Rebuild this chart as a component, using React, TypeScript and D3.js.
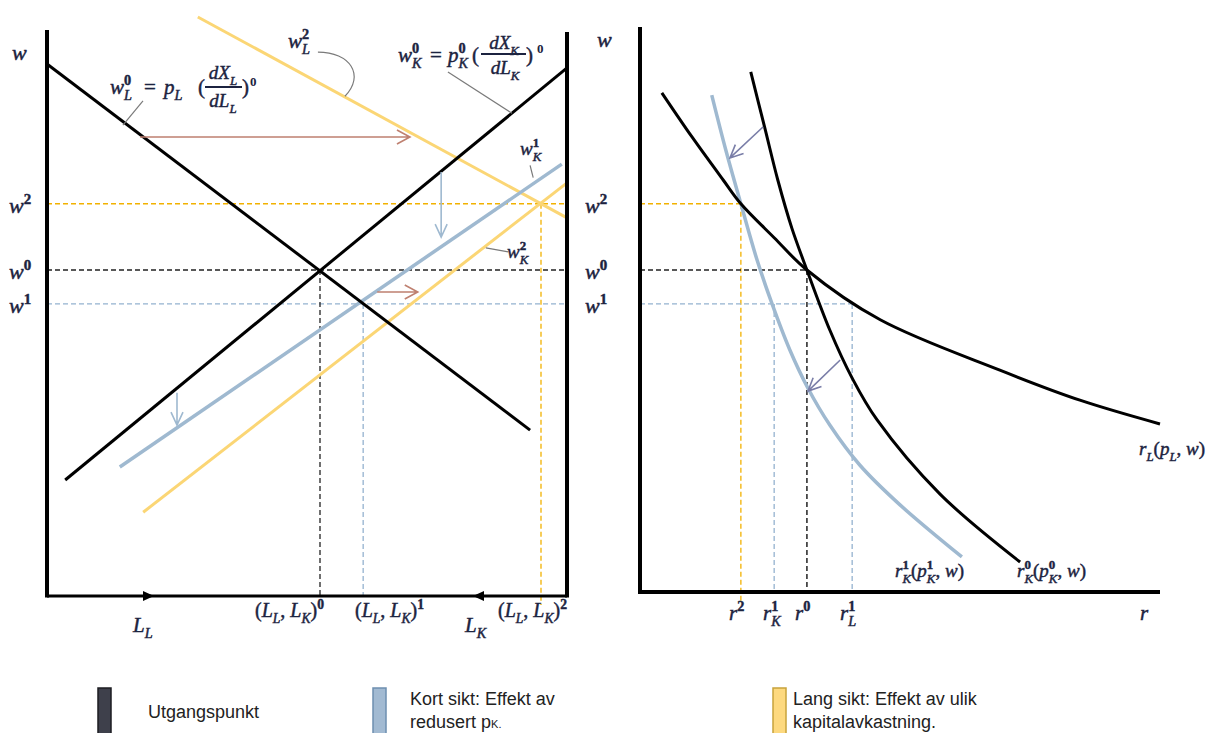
import React from 'react';
import * as d3 from 'd3';

// ---------- data (abstract units 0..100) ----------
const wLevelTags = ['2', '0', '1'];
const wLevels = [69.3, 57.6, 51.6]; // w^2, w^0, w^1
const allocLevels = [52.5, 60.8, 95.0]; // (L_L,L_K)^0, ^1, ^2
const rLevels = [19.4, 25.8, 32.1, 40.8]; // r^2, r_K^1, r^0, r_L^1

// left panel lines [allocation, w]
const wL0 = [[0, 94.0], [92.9, 29.3]];
const wK0 = [[3.5, 20.5], [100, 93.3]];
const wK1 = [[14.0, 22.8], [99.0, 76.3]];
const wK2 = [[18.5, 14.8], [100, 73.0]];
const wL2 = [[29.0, 102.3], [100, 66.8]];

// right panel curves [r, w]
const rL = [[4.2, 88.9], [10.0, 81.1], [16.0, 73.5], [19.4, 69.3], [25.8, 63.3], [32.1, 57.6], [46.2, 48.8], [69.2, 39.9], [84.6, 34.6], [100, 30.4]];
const rK0 = [[21.3, 92.6], [24.0, 82.7], [26.5, 73.5], [29.2, 65.0], [32.1, 57.6], [36.5, 47.0], [40.8, 38.5], [45.6, 31.1], [57.7, 18.0], [73.1, 6.0]];
const rK1 = [[13.8, 88.5], [16.5, 78.8], [19.4, 69.3], [22.5, 59.4], [25.4, 51.6], [28.8, 43.5], [32.3, 36.7], [36.5, 30.2], [42.3, 23.1], [50.0, 16.1], [61.9, 6.9]];

// arrows [x1,w1,x2,w2]
const leftArrowsBrown = [[17.9, 81.1, 69.8, 81.1], [63.5, 53.7, 71.3, 53.7]];
const leftArrowsBlue = [[75.8, 74.9, 75.8, 63.4], [25.0, 35.9, 25.0, 30.2]];
const rightArrows = [[23.7, 82.9, 17.3, 77.4], [38.5, 41.7, 32.3, 36.2]];

// ---------- style ----------
const SERIF = "'Liberation Serif', 'DejaVu Serif', serif";
const SANS = "'Liberation Sans Narrow', 'Liberation Sans', 'Open Sans', sans-serif";
const INK = '#1c2340';
const BLACK = '#000';
const BLUE = '#9fb9d0';
const YELLOW = '#fbd675';
const DASH_Y = '#f2b100';
const DASH_B = '#94b2cf';
const DASH_K = '#222';
const BROWN = '#bf8070';
const PURPLE = '#7a7ea8';
const levelColors = [DASH_Y, DASH_K, DASH_B];

const xL = d3.scaleLinear().domain([0, 100]).range([47, 567]);
const xR = d3.scaleLinear().domain([0, 100]).range([640, 1160]);
const y = d3.scaleLinear().domain([0, 100]).range([596, 30]);
const R_AXIS_Y = 592;
const SS = 0.68; // sub/sup scale

type Piece = { t: string; r?: 'n' | 'sup' | 'sub'; it?: boolean; dx?: number };

function MathText({ x, y: yy, fs, pieces, anchor }: { x: number; y: number; fs: number; pieces: Piece[]; anchor?: string }) {
  let cur = 0;
  return (
    <text x={x} y={yy} fontFamily={SERIF} fontSize={fs} fill={INK} stroke={INK} strokeWidth={0.45} textAnchor={anchor || 'start'}>
      {pieces.map((p, i) => {
        const role = p.r || 'n';
        const off = role === 'sup' ? -0.42 * fs : role === 'sub' ? 0.3 * fs : 0;
        const dy = off - cur;
        cur = off;
        const size = role === 'n' ? fs : SS * fs;
        const italic = p.it !== undefined ? p.it : /[A-Za-z]/.test(p.t);
        const bold = role !== 'n' && /[0-9]/.test(p.t);
        return (
          <tspan key={i} dy={dy} dx={p.dx || 0} fontSize={size} fontStyle={italic ? 'italic' : 'normal'} fontWeight={bold ? 'bold' : 'normal'}>
            {p.t}
          </tspan>
        );
      })}
    </text>
  );
}

function sym(base: string, sub: string | null, sup: string | null, fs: number): Piece[] {
  const out: Piece[] = [{ t: base }];
  if (sup) out.push({ t: sup, r: 'sup' });
  if (sub) out.push({ t: sub, r: 'sub', dx: sup ? -0.5 * SS * fs * sup.length : 0 });
  return out;
}

function arrowPath(x1: number, y1: number, x2: number, y2: number, len: number, half: number) {
  const a = Math.atan2(y2 - y1, x2 - x1);
  const bx = x2 - len * Math.cos(a);
  const by = y2 - len * Math.sin(a);
  const px = -Math.sin(a) * half;
  const py = Math.cos(a) * half;
  return `M${x1},${y1}L${x2},${y2}M${bx + px},${by + py}L${x2},${y2}L${bx - px},${by - py}`;
}

function Plain({ x, y: yy, fs, t }: { x: number; y: number; fs: number; t: string }) {
  return (
    <text x={x} y={yy} fontFamily={SERIF} fontSize={fs} fill={INK} stroke={INK} strokeWidth={0.45}>
      {t}
    </text>
  );
}

export default function App() {
  const lineL = d3.line<number[]>().x((d) => xL(d[0])).y((d) => y(d[1]));
  const curveR = d3.line<number[]>().x((d) => xR(d[0])).y((d) => y(d[1])).curve(d3.curveCatmullRom.alpha(0.5));

  return (
    <svg width={1223} height={733} style={{ position: 'absolute', left: 0, top: 0, background: '#fff' }}>
      <rect width={1223} height={733} fill="#fff" />

      {/* ===== LEFT PANEL ===== */}
      {wLevels.map((w, i) => (
        <line key={'lh' + i} x1={xL(0)} x2={xL(100)} y1={y(w)} y2={y(w)} stroke={levelColors[i]} strokeWidth={1.3} strokeDasharray="5,3" />
      ))}
      <line x1={xL(allocLevels[0])} x2={xL(allocLevels[0])} y1={y(wLevels[1])} y2={y(0)} stroke={DASH_K} strokeWidth={1.3} strokeDasharray="5,3" />
      <line x1={xL(allocLevels[1])} x2={xL(allocLevels[1])} y1={y(wLevels[2])} y2={y(0)} stroke={DASH_B} strokeWidth={1.3} strokeDasharray="5,3" />
      <line x1={xL(allocLevels[2])} x2={xL(allocLevels[2])} y1={y(wLevels[0])} y2={y(0) + 9} stroke={DASH_Y} strokeWidth={1.3} strokeDasharray="5,3" />

      <path d={lineL(wL2 as any) || ''} stroke={YELLOW} strokeWidth={3} fill="none" />
      <path d={lineL(wK2 as any) || ''} stroke={YELLOW} strokeWidth={3} fill="none" />
      <path d={lineL(wK1 as any) || ''} stroke={BLUE} strokeWidth={3.5} fill="none" />
      <path d={lineL(wL0 as any) || ''} stroke={BLACK} strokeWidth={3} fill="none" />
      <path d={lineL(wK0 as any) || ''} stroke={BLACK} strokeWidth={3} fill="none" />

      {leftArrowsBrown.map((a, i) => (
        <path key={'ab' + i} d={arrowPath(xL(a[0]), y(a[1]), xL(a[2]), y(a[3]), 13, 7)} stroke={BROWN} strokeWidth={1.6} fill="none" />
      ))}
      {leftArrowsBlue.map((a, i) => (
        <path key={'abl' + i} d={arrowPath(xL(a[0]), y(a[1]), xL(a[2]), y(a[3]), 13, 6)} stroke={BLUE} strokeWidth={1.6} fill="none" />
      ))}

      <line x1={xL(0)} x2={xL(0)} y1={y(100)} y2={y(0) + 1.5} stroke={BLACK} strokeWidth={4} />
      <line x1={xL(100)} x2={xL(100)} y1={y(100) + 2} y2={y(0) + 1.5} stroke={BLACK} strokeWidth={4} />
      <line x1={xL(0)} x2={xL(100)} y1={y(0)} y2={y(0)} stroke={BLACK} strokeWidth={3} />
      <path d={`M${143},${y(0) - 5}L${154},${y(0)}L${143},${y(0) + 5}Z`} fill={BLACK} />
      <path d={`M${484},${y(0) - 5}L${473},${y(0)}L${484},${y(0) + 5}Z`} fill={BLACK} />

      <g stroke="#7a7a7a" strokeWidth={1.2} fill="none">
        <line x1={xL(18.46)} y1={y(87.46)} x2={xL(14.6)} y2={y(83.2)} />
        <path d={`M${xL(52.1)},${y(96.1)}C${xL(58.3)},${y(96.1)} ${xL(61.2)},${y(92.0)} ${xL(57.3)},${y(88.3)}`} />
        <line x1={xL(77.1)} y1={y(92.6)} x2={xL(89.4)} y2={y(85.3)} />
        <line x1={xL(92.9)} y1={y(76.1)} x2={xL(93.5)} y2={y(73.9)} />
        <line x1={xL(84.4)} y1={y(61.5)} x2={xL(88.7)} y2={y(60.8)} />
      </g>

      <MathText x={12} y={60} fs={22} pieces={[{ t: 'w' }]} />
      {wLevels.map((w, i) => (
        <MathText key={'wl' + i} x={9} y={y(w) + 9} fs={22} pieces={sym('w', null, wLevelTags[i], 22)} />
      ))}
      {wLevels.map((w, i) => (
        <MathText key={'wr' + i} x={585} y={y(w) + 9} fs={22} pieces={sym('w', null, wLevelTags[i], 22)} />
      ))}

      {/* w_L^0 formula */}
      <MathText x={110} y={94} fs={21} pieces={sym('w', 'L', '0', 21)} />
      <Plain x={144} y={94} fs={21} t="=" />
      <MathText x={164} y={94} fs={21} pieces={sym('p', 'L', null, 21)} />
      <Plain x={198} y={94} fs={21} t="(" />
      <MathText x={223} y={79} fs={19} anchor="middle" pieces={[{ t: 'dX' }, { t: 'L', r: 'sub' }]} />
      <line x1={205} x2={242} y1={87} y2={87} stroke={INK} strokeWidth={1.8} />
      <MathText x={223} y={107} fs={19} anchor="middle" pieces={[{ t: 'dL' }, { t: 'L', r: 'sub' }]} />
      <Plain x={242} y={94} fs={21} t=")" />
      <text x={250} y={86} fontFamily={SERIF} fontSize={13} fontWeight="bold" fill={INK}>0</text>

      {/* w_K^0 formula */}
      <MathText x={398} y={62} fs={21} pieces={sym('w', 'K', '0', 21)} />
      <Plain x={430} y={62} fs={21} t="=" />
      <MathText x={448} y={62} fs={21} pieces={sym('p', 'K', '0', 21)} />
      <Plain x={472} y={62} fs={21} t="(" />
      <MathText x={504} y={49} fs={19} anchor="middle" pieces={[{ t: 'dX' }, { t: 'K', r: 'sub' }]} />
      <line x1={481} x2={526} y1={54} y2={54} stroke={INK} strokeWidth={1.8} />
      <MathText x={505} y={74} fs={19} anchor="middle" pieces={[{ t: 'dL' }, { t: 'K', r: 'sub' }]} />
      <Plain x={526} y={62} fs={21} t=")" />
      <text x={537} y={53} fontFamily={SERIF} fontSize={13} fontWeight="bold" fill={INK}>0</text>

      <MathText x={288} y={48} fs={21} pieces={sym('w', 'L', '2', 21)} />
      <MathText x={520} y={155} fs={19} pieces={sym('w', 'K', '1', 19)} />
      <MathText x={507} y={258} fs={19} pieces={sym('w', 'K', '2', 19)} />

      <MathText x={133} y={632} fs={21} pieces={sym('L', 'L', null, 21)} />
      <MathText x={465} y={632} fs={21} pieces={sym('L', 'K', null, 21)} />
      {['0', '1', '2'].map((s, i) => (
        <MathText
          key={'al' + i}
          x={[255, 355, 498][i]}
          y={617}
          fs={20}
          pieces={[
            { t: '(', it: false },
            { t: 'L' },
            { t: 'L', r: 'sub' },
            { t: ', ', r: 'n', it: false },
            { t: 'L' },
            { t: 'K', r: 'sub' },
            { t: ')', r: 'n', it: false },
            { t: s, r: 'sup' },
          ]}
        />
      ))}

      {/* ===== RIGHT PANEL ===== */}
      <line x1={xR(0)} x2={xR(rLevels[0])} y1={y(wLevels[0])} y2={y(wLevels[0])} stroke={DASH_Y} strokeWidth={1.3} strokeDasharray="5,3" />
      <line x1={xR(rLevels[0])} x2={xR(rLevels[0])} y1={y(wLevels[0])} y2={R_AXIS_Y + 10} stroke={DASH_Y} strokeWidth={1.3} strokeDasharray="5,3" />
      <line x1={xR(0)} x2={xR(rLevels[2])} y1={y(wLevels[1])} y2={y(wLevels[1])} stroke={DASH_K} strokeWidth={1.3} strokeDasharray="5,3" />
      <line x1={xR(rLevels[2])} x2={xR(rLevels[2])} y1={y(wLevels[1])} y2={R_AXIS_Y} stroke={DASH_K} strokeWidth={1.5} strokeDasharray="5,3" />
      <line x1={xR(0)} x2={xR(rLevels[3])} y1={y(wLevels[2])} y2={y(wLevels[2])} stroke={DASH_B} strokeWidth={1.3} strokeDasharray="5,3" />
      <line x1={xR(rLevels[1])} x2={xR(rLevels[1])} y1={y(wLevels[2])} y2={R_AXIS_Y} stroke={DASH_B} strokeWidth={1.3} strokeDasharray="5,3" />
      <line x1={xR(rLevels[3])} x2={xR(rLevels[3])} y1={y(wLevels[2])} y2={R_AXIS_Y} stroke={DASH_B} strokeWidth={1.3} strokeDasharray="5,3" />

      <path d={curveR(rK1 as any) || ''} stroke={BLUE} strokeWidth={3.5} fill="none" />
      <path d={curveR(rL as any) || ''} stroke={BLACK} strokeWidth={3} fill="none" />
      <path d={curveR(rK0 as any) || ''} stroke={BLACK} strokeWidth={3} fill="none" />

      {rightArrows.map((a, i) => (
        <path key={'ar' + i} d={arrowPath(xR(a[0]), y(a[1]), xR(a[2]), y(a[3]), 13, 6)} stroke={PURPLE} strokeWidth={1.6} fill="none" />
      ))}

      <line x1={xR(0)} x2={xR(0)} y1={27} y2={R_AXIS_Y + 2} stroke={BLACK} strokeWidth={4} />
      <line x1={xR(0)} x2={xR(100)} y1={R_AXIS_Y} y2={R_AXIS_Y} stroke={BLACK} strokeWidth={4} />

      <MathText x={597} y={47} fs={22} pieces={[{ t: 'w' }]} />
      <MathText x={1140} y={620} fs={21} pieces={[{ t: 'r' }]} />
      <MathText x={729} y={620} fs={21} pieces={sym('r', null, '2', 21)} />
      <MathText x={763} y={620} fs={21} pieces={sym('r', 'K', '1', 21)} />
      <MathText x={795} y={620} fs={21} pieces={sym('r', null, '0', 21)} />
      <MathText x={840} y={620} fs={21} pieces={sym('r', 'L', '1', 21)} />

      <MathText
        x={895}
        y={577}
        fs={19}
        pieces={[...sym('r', 'K', '1', 19), { t: '(', it: false }, ...sym('p', 'K', '1', 19), { t: ', ', it: false }, { t: 'w' }, { t: ')', it: false }]}
      />
      <MathText
        x={1017}
        y={577}
        fs={19}
        pieces={[...sym('r', 'K', '0', 19), { t: '(', it: false }, ...sym('p', 'K', '0', 19), { t: ', ', it: false }, { t: 'w' }, { t: ')', it: false }]}
      />
      <MathText
        x={1139}
        y={455}
        fs={19}
        pieces={[...sym('r', 'L', null, 19), { t: '(', it: false }, ...sym('p', 'L', null, 19), { t: ', ', it: false }, { t: 'w' }, { t: ')', it: false }]}
      />

      {/* ===== LEGEND ===== */}
      <rect x={98} y={688} width={13} height={60} fill="#3e404b" stroke="#1d1d22" strokeWidth={1.5} />
      <text x={148} y={718} fontFamily={SANS} fontSize={18} fill="#222">Utgangspunkt</text>
      <rect x={373} y={688} width={13} height={60} fill="#a2bad2" stroke="#6d8fb0" strokeWidth={1.5} />
      <text x={410} y={705} fontFamily={SANS} fontSize={18} fill="#222">Kort sikt: Effekt av</text>
      <text x={410} y={728} fontFamily={SANS} fontSize={18} fill="#222">
        redusert p<tspan fontSize={11}>K.</tspan>
      </text>
      <rect x={773} y={688} width={13} height={60} fill="#fdd97f" stroke="#c8a33b" strokeWidth={1.5} />
      <text x={793} y={705} fontFamily={SANS} fontSize={18} fill="#222">Lang sikt: Effekt av ulik</text>
      <text x={793} y={728} fontFamily={SANS} fontSize={18} fill="#222">kapitalavkastning.</text>
    </svg>
  );
}
